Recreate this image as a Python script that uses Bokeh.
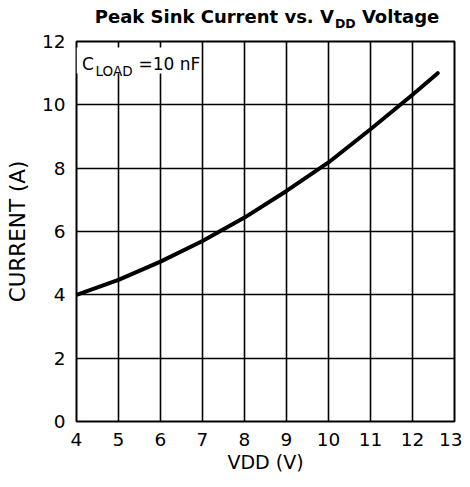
from bokeh.plotting import figure
from bokeh.models import Range1d, FixedTicker, Label, BoxAnnotation, Div
from bokeh.layouts import column
from bokeh.embed import file_html
from bokeh.resources import INLINE

# Data
vdd = [4, 5, 6, 7, 8, 9, 10, 11, 12, 12.6]
current = [4.0, 4.47, 5.05, 5.7, 6.44, 7.28, 8.18, 9.23, 10.32, 11.0]
x_ticks = [4, 5, 6, 7, 8, 9, 10, 11, 12, 13]
y_ticks = [0, 2, 4, 6, 8, 10, 12]

FONT = "DejaVu Sans"

title_html = (
    '<div style="position:absolute; left:78px; top:8px; width:378px; text-align:center; '
    'font-family:\'DejaVu Sans\'; font-weight:bold; font-size:18px; line-height:18px; color:black; '
    'white-space:nowrap;">'
    'Peak Sink Current vs. V<span style="font-size:12.5px; position:relative; top:5px; '
    'margin-left:1px;">DD</span> Voltage</div>'
)
title_div = Div(text=title_html, width=462, height=30, margin=(0, 0, 0, 0),
                styles={"position": "relative"})

p = figure(frame_width=378, frame_height=380,
           min_border_left=76, min_border_top=11, min_border_right=8, min_border_bottom=56,
           x_range=Range1d(4, 13), y_range=Range1d(0, 12),
           output_backend="svg", toolbar_location=None, margin=(0, 0, 0, 0))

p.background_fill_color = "white"
p.border_fill_color = "white"
p.outline_line_color = "black"
p.outline_line_width = 2

for ax in (p.xaxis[0], p.yaxis[0]):
    ax.axis_line_color = None
    ax.major_tick_line_color = None
    ax.minor_tick_line_color = None
    ax.major_tick_in = 0
    ax.major_tick_out = 0
    ax.minor_tick_in = 0
    ax.minor_tick_out = 0
    ax.major_label_text_font = FONT
    ax.major_label_text_font_size = "18.5px"
    ax.major_label_text_color = "black"
    ax.axis_label_text_font = FONT
    ax.axis_label_text_font_size = "19px"
    ax.axis_label_text_font_style = "normal"
    ax.axis_label_text_color = "black"

p.yaxis.axis_label_text_font_size = "21.5px"
p.xaxis.ticker = FixedTicker(ticks=x_ticks)
p.yaxis.ticker = FixedTicker(ticks=y_ticks)
p.xaxis.axis_label = "VDD (V)"
p.yaxis.axis_label = "CURRENT (A)"
p.xaxis.major_label_standoff = 11
p.xaxis.axis_label_standoff = 2
p.yaxis.major_label_standoff = 11
p.yaxis.axis_label_standoff = 9

p.xgrid.ticker = FixedTicker(ticks=x_ticks)
p.ygrid.ticker = FixedTicker(ticks=y_ticks)
p.grid.grid_line_color = "black"
p.grid.grid_line_width = 1.6
p.grid.grid_line_alpha = 1.0

p.line(vdd, current, line_color="black", line_width=4, line_join="round", line_cap="round")

# White box behind annotation text
p.add_layout(BoxAnnotation(left=4, right=6.95, top=11.81, bottom=10.99,
                           fill_color="white", fill_alpha=1.0, line_color=None))

# C_LOAD=10 nF annotation (offsets in pixels from the top-left corner of the frame)
p.add_layout(Label(x=4, y=12, x_offset=5.5, y_offset=-22.3, text="C", text_font=FONT,
                   text_font_size="17px", text_baseline="alphabetic", text_color="black"))
p.add_layout(Label(x=4, y=12, x_offset=19, y_offset=-29, text="LOAD", text_font=FONT,
                   text_font_size="13.5px", text_baseline="alphabetic", text_color="black"))
p.add_layout(Label(x=4, y=12, x_offset=62, y_offset=-22.3, text="=10 nF", text_font=FONT,
                   text_font_size="17px", text_baseline="alphabetic", text_color="black"))

layout = column(title_div, p, spacing=0)
open("out.html", "w").write(file_html(layout, INLINE))
